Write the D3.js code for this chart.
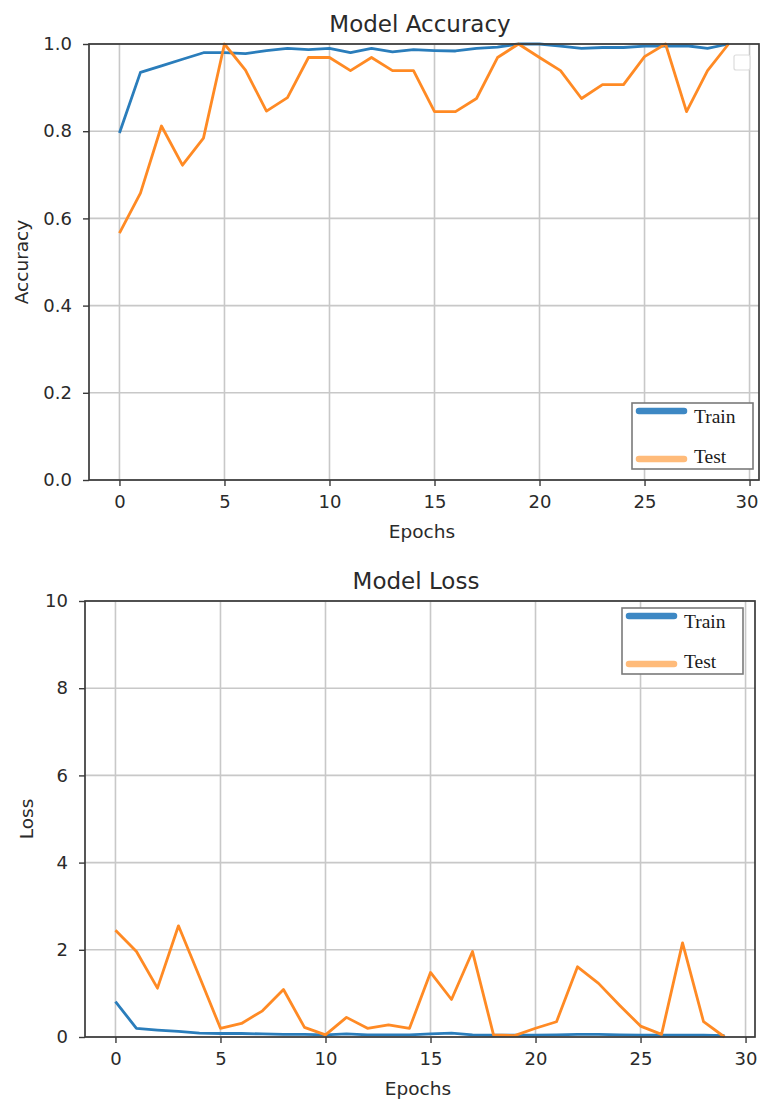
<!DOCTYPE html>
<html><head><meta charset="utf-8">
<script src="https://cdn.jsdelivr.net/npm/d3@7"></script>
<style>body{margin:0;background:#fff}svg{display:block}</style>
</head><body>
<script>
const epochs = d3.range(0, 30);
const accTrain = [0.796,0.935,0.95,0.965,0.98,0.98,0.978,0.985,0.99,0.987,0.99,0.98,0.99,0.982,0.987,0.985,0.984,0.99,0.993,1.0,1.0,0.995,0.99,0.992,0.992,0.995,0.995,0.996,0.99,1.0];
const accTest = [0.566,0.658,0.812,0.722,0.784,1.0,0.94,0.846,0.877,0.969,0.969,0.939,0.969,0.939,0.939,0.845,0.845,0.875,0.969,1.0,0.969,0.939,0.875,0.907,0.907,0.971,1.0,0.845,0.939,1.0];
const lossTrain = [0.81,0.2,0.16,0.13,0.09,0.08,0.08,0.07,0.06,0.06,0.05,0.07,0.05,0.05,0.05,0.07,0.09,0.05,0.04,0.04,0.04,0.05,0.06,0.06,0.05,0.04,0.04,0.04,0.04,0.03];
const lossTest = [2.45,1.96,1.12,2.55,1.38,0.2,0.31,0.6,1.09,0.22,0.05,0.45,0.2,0.28,0.2,1.48,0.86,1.96,0.05,0.03,0.2,0.35,1.61,1.23,0.73,0.25,0.06,2.16,0.35,0.0];
const xTicks = [0,5,10,15,20,25,30];
const accTicks = [0,0.2,0.4,0.6,0.8,1.0];
const lossTicks = [0,2,4,6,8,10];
const legendLabels = ["Train","Test"];

const W = 760, H = 1102;
const svg = d3.select("body").append("svg").attr("width", W).attr("height", H);
const font = "DejaVu Sans, sans-serif";
const txt = "#2a2a2a";

function panel(cfg) {
  const x = d3.scaleLinear().domain([-1.45, 30.45]).range([cfg.left, cfg.right]);
  const y = d3.scaleLinear().domain(cfg.yDomain).range([cfg.bottom, cfg.top]);
  const g = svg.append("g");
  g.append("g").selectAll("line").data(xTicks).join("line")
    .attr("x1", d => x(d)).attr("x2", d => x(d)).attr("y1", cfg.top).attr("y2", cfg.bottom)
    .attr("stroke", "#c8c8c8").attr("stroke-width", 1.6);
  g.append("g").selectAll("line").data(cfg.yTicks).join("line")
    .attr("x1", cfg.left).attr("x2", cfg.right).attr("y1", d => y(d)).attr("y2", d => y(d))
    .attr("stroke", "#c8c8c8").attr("stroke-width", 1.6);
  const line = vals => d3.line().x((d, i) => x(epochs[i])).y(d => y(d))(vals);
  g.append("path").attr("d", line(cfg.train)).attr("fill", "none").attr("stroke", "#2a7dbb").attr("stroke-width", 2.8).attr("stroke-linejoin", "round");
  g.append("path").attr("d", line(cfg.test)).attr("fill", "none").attr("stroke", "#ff8a24").attr("stroke-width", 2.8).attr("stroke-linejoin", "round");
  g.append("rect").attr("x", cfg.left).attr("y", cfg.top).attr("width", cfg.right - cfg.left).attr("height", cfg.bottom - cfg.top)
    .attr("fill", "none").attr("stroke", "#3a3a3a").attr("stroke-width", 1.7);
  const xa = g.append("g").attr("transform", `translate(0,${cfg.bottom})`)
    .call(d3.axisBottom(x).tickValues(xTicks).tickSize(6).tickPadding(9).tickFormat(d3.format("d")));
  const ya = g.append("g").attr("transform", `translate(${cfg.left},0)`)
    .call(d3.axisLeft(y).tickValues(cfg.yTicks).tickSize(6).tickPadding(11).tickFormat(cfg.yFmt));
  [xa, ya].forEach(a => {
    a.select(".domain").remove();
    a.selectAll(".tick line").attr("stroke", "#3a3a3a").attr("stroke-width", 1.4);
    a.selectAll(".tick text").attr("font-family", font).attr("font-size", 18).attr("fill", txt);
  });
  // keep the last x label inside the page
  xa.selectAll(".tick text").filter(d => x(d) > W - 14).attr("dx", -3);
  svg.append("text").attr("x", (cfg.left + cfg.right) / 2 - 4).attr("y", cfg.top - 12).attr("text-anchor", "middle")
    .attr("font-family", font).attr("font-size", 23).attr("fill", txt).text(cfg.title);
  svg.append("text").attr("x", (cfg.left + cfg.right) / 2 - 2).attr("y", cfg.bottom + 58).attr("text-anchor", "middle")
    .attr("font-family", font).attr("font-size", 18.5).attr("fill", txt).text("Epochs");
  svg.append("text").attr("transform", `translate(${cfg.ylabX},${(cfg.top + cfg.bottom) / 2}) rotate(-90)`).attr("text-anchor", "middle")
    .attr("font-family", font).attr("font-size", 18.5).attr("fill", txt).text(cfg.ylabel);
  const L = cfg.legend;
  const lg = svg.append("g").attr("transform", `translate(${L.x},${L.y})`);
  lg.append("rect").attr("x", 0).attr("y", 0).attr("width", 121).attr("height", 66).attr("fill", "#fff")
    .attr("stroke", "#7a7a7a").attr("stroke-width", 1.6);
  const cols = ["#3d88c4", "#ffbb7a"];
  legendLabels.forEach((lab, i) => {
    const yy = 8 + i * 48;
    lg.append("line").attr("x1", 7).attr("x2", 52).attr("y1", yy).attr("y2", yy)
      .attr("stroke", cols[i]).attr("stroke-width", 6.5).attr("stroke-linecap", "round");
    lg.append("text").attr("x", 62).attr("y", yy + 12 - i * 8).attr("font-family", "Liberation Serif, Times New Roman, serif")
      .attr("font-size", 19.5).attr("fill", "#1a1a1a").text(lab);
  });
  return {x, y};
}

panel({left: 89, right: 759, top: 44, bottom: 480, yDomain: [0, 1], yTicks: accTicks, yFmt: d3.format(".1f"),
  train: accTrain, test: accTest, title: "Model Accuracy", ylabel: "Accuracy", ylabX: 28,
  legend: {x: 632, y: 403}});
panel({left: 85, right: 755, top: 601, bottom: 1037, yDomain: [0, 10], yTicks: lossTicks, yFmt: d3.format("d"),
  train: lossTrain, test: lossTest, title: "Model Loss", ylabel: "Loss", ylabX: 33,
  legend: {x: 622, y: 608}});

svg.append("rect").attr("x", 734).attr("y", 55).attr("width", 16).attr("height", 15).attr("rx", 2)
  .attr("fill", "#fff").attr("stroke", "#dcdcdc").attr("stroke-width", 1.2);
</script>
</body></html>
